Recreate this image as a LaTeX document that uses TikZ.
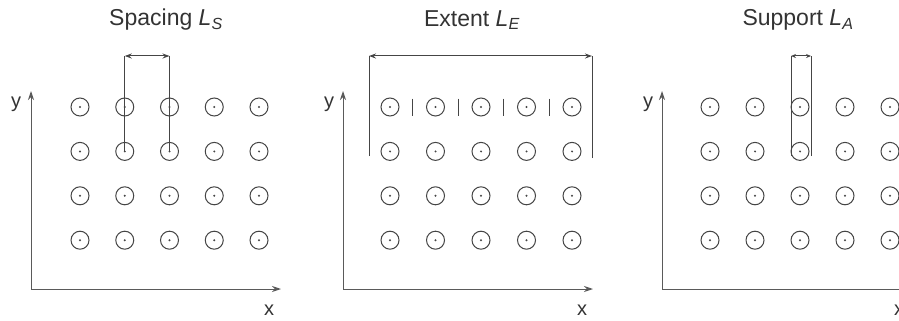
\documentclass[tikz,border=0pt]{standalone}
\usepackage{fontspec}
\setmainfont{Liberation Sans}
\usetikzlibrary{arrows.meta,calc}
\definecolor{linegray}{HTML}{454545}
\definecolor{axisgray}{HTML}{5A5A5A}
\definecolor{textgray}{HTML}{333333}
\begin{document}
\begin{tikzpicture}[x=1pt,y=-1pt,
  site/.style={circle,draw=linegray,line width=1pt,minimum size=18pt,inner sep=0pt},
  axis/.style={draw=axisgray,line width=1pt,-{Stealth[length=9pt,width=6pt]}},
  dimline/.style={draw=linegray,line width=1pt},
  dimarrow/.style={draw=linegray,line width=1pt,{Stealth[length=7pt,width=5pt]}-{Stealth[length=7pt,width=5pt]}},
  smallarrow/.style={draw=linegray,line width=1pt,{Stealth[length=5pt,width=4pt]}-{Stealth[length=5pt,width=4pt]}},
  title/.style={text=textgray,font=\fontsize{23}{25}\selectfont},
  axlabel/.style={text=textgray,font=\fontsize{20}{22}\selectfont}]
\useasboundingbox (0,0) rectangle (899,321);

% ---------- Panel 1: Spacing ----------
\node[title] (t1) at (166,20) {Spacing \textit{L}\textsubscript{\textit{S}}};
\coordinate (o1) at (31,289);
\coordinate (y1) at (31,91);
\coordinate (x1) at (281,289);
\draw[axis] (o1) -- (y1);
\draw[axis] (o1) -- (x1);
\node[axlabel] (ly1) at (16,104) {y};
\node[axlabel] (lx1) at (269,310) {x};
\foreach \i in {1,...,5}{
  \foreach \j in {1,...,4}{
    \node[site] (a-\i-\j) at ({80+44.75*(\i-1)},{107+44.4*(\j-1)}) {};
    \fill[linegray] (a-\i-\j.center) circle (1.1pt);
  }
}
\coordinate (sa) at (a-2-1 |- 0,56);
\coordinate (sb) at (a-3-1 |- 0,56);
\draw[dimline] (a-2-2.center) -- (sa);
\draw[dimline] (a-3-2.center) -- (sb);
\draw[dimarrow] (sa) -- (sb);

% ---------- Panel 2: Extent ----------
\node[title] (t2) at (472,20) {Extent \textit{L}\textsubscript{\textit{E}}};
\coordinate (o2) at (343,289);
\coordinate (y2) at (343,91);
\coordinate (x2) at (593,289);
\draw[axis] (o2) -- (y2);
\draw[axis] (o2) -- (x2);
\node[axlabel] (ly2) at (329,104) {y};
\node[axlabel] (lx2) at (582,310) {x};
\foreach \i in {1,...,5}{
  \foreach \j in {1,...,4}{
    \node[site] (b-\i-\j) at ({390+45.5*(\i-1)},{107+44.4*(\j-1)}) {};
    \fill[linegray] (b-\i-\j.center) circle (1.1pt);
  }
}
\foreach \i [evaluate=\i as \k using int(\i+1)] in {1,...,4}{
  \coordinate (m\i) at ($(b-\i-1)!0.5!(b-\k-1)$);
  \draw[dimline] ($(m\i)+(0,-8.5)$) -- ($(m\i)+(0,8.5)$);
}
\coordinate (ea) at (369,56);
\coordinate (eb) at (592,56);
\coordinate (ea2) at (369,156);
\coordinate (eb2) at (592,158);
\draw[dimline] (ea2) -- (ea);
\draw[dimline] (eb2) -- (eb);
\draw[dimarrow] (ea) -- (eb);

% ---------- Panel 3: Support ----------
\node[title] (t3) at (798,20) {Support \textit{L}\textsubscript{\textit{A}}};
\coordinate (o3) at (662,289);
\coordinate (y3) at (662,91);
\coordinate (x3) at (912,289);
\draw[axis] (o3) -- (y3);
\draw[axis] (o3) -- (x3);
\node[axlabel] (ly3) at (648,104) {y};
\node[axlabel] (lx3) at (899,310) {x};
\foreach \i in {1,...,5}{
  \foreach \j in {1,...,4}{
    \node[site] (c-\i-\j) at ({710+45*(\i-1)},{107+44.4*(\j-1)}) {};
    \fill[linegray] (c-\i-\j.center) circle (1.1pt);
  }
}
\coordinate (pa) at (791,56);
\coordinate (pb) at (811,56);
\coordinate (pa2) at (791,156);
\coordinate (pb2) at (811,156);
\draw[dimline] (pa2) -- (pa);
\draw[dimline] (pb2) -- (pb);
\draw[smallarrow] (pa) -- (pb);
\end{tikzpicture}
\end{document}
